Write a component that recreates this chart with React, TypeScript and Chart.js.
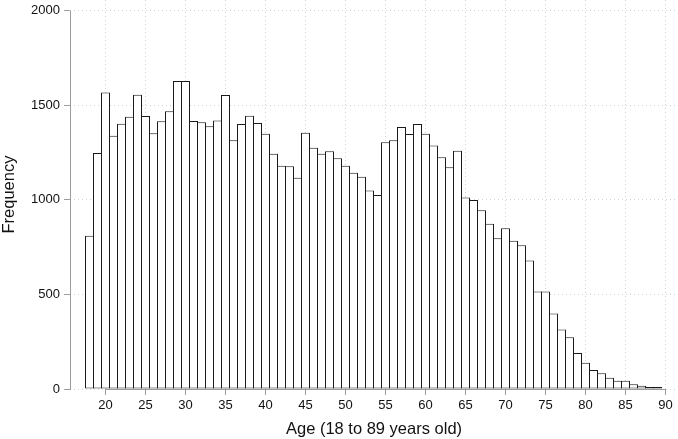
import React, { useEffect, useRef } from "react";
import { Chart, registerables } from "chart.js";

Chart.register(...registerables);

const ages = [
  18, 19, 20, 21, 22, 23, 24, 25, 26, 27, 28, 29, 30, 31, 32, 33, 34, 35,
  36, 37, 38, 39, 40, 41, 42, 43, 44, 45, 46, 47, 48, 49, 50, 51, 52, 53,
  54, 55, 56, 57, 58, 59, 60, 61, 62, 63, 64, 65, 66, 67, 68, 69, 70, 71,
  72, 73, 74, 75, 76, 77, 78, 79, 80, 81, 82, 83, 84, 85, 86, 87, 88, 89,
];

const frequencies = [
  810, 1248, 1568, 1339, 1402, 1439, 1556, 1443, 1352, 1415, 1468, 1628,
  1628, 1417, 1410, 1389, 1420, 1554, 1315, 1401, 1445, 1406, 1350, 1244,
  1180, 1177, 1117, 1355, 1276, 1244, 1257, 1220, 1180, 1143, 1122, 1050,
  1026, 1304, 1315, 1385, 1348, 1401, 1350, 1288, 1225, 1172, 1260, 1013,
  999, 945, 874, 797, 850, 784, 760, 679, 515, 515, 399, 315, 273, 190,
  139, 100, 83, 60, 44, 44, 25, 17, 11, 11,
];

const xTicks = [20, 25, 30, 35, 40, 45, 50, 55, 60, 65, 70, 75, 80, 85, 90];
const yTicks = [0, 500, 1000, 1500, 2000];

const xTitle = "Age (18 to 89 years old)";
const yTitle = "Frequency";

const FONT = "'Liberation Sans', Arial, Helvetica, sans-serif";
const AXIS_GRAY = "#9c9c9c";
const GRID_GRAY = "#d2d2d2";
const TEXT = "#111111";

export default function App() {
  const ref = useRef<HTMLCanvasElement>(null);

  useEffect(() => {
    if (!ref.current) return;

    const axisLines = {
      id: "axisLines",
      afterDatasetsDraw(chart: any) {
        const { ctx, scales } = chart;
        const x = scales.x;
        const y = scales.y;
        ctx.save();
        ctx.strokeStyle = AXIS_GRAY;
        ctx.lineWidth = 1;
        ctx.setLineDash([]);
        const ax = Math.round(x.left) + 0.5;
        ctx.beginPath();
        ctx.moveTo(ax, Math.round(y.getPixelForValue(yTicks[yTicks.length - 1])));
        ctx.lineTo(ax, Math.round(y.getPixelForValue(yTicks[0])) + 1);
        ctx.stroke();
        const ay = Math.round(y.getPixelForValue(0)) + 0.5;
        ctx.beginPath();
        ctx.moveTo(Math.floor(x.getPixelForValue(xTicks[0])), ay);
        ctx.lineTo(Math.ceil(x.getPixelForValue(xTicks[xTicks.length - 1])), ay);
        ctx.stroke();
        ctx.restore();
      },
    };

    const chart = new Chart(ref.current, {
      type: "bar",
      data: {
        datasets: [
          {
            data: ages.map((a, i) => ({ x: a, y: frequencies[i] })),
            backgroundColor: "#ffffff",
            borderColor: "#1a1a1a",
            borderWidth: 1,
            borderSkipped: false,
            barPercentage: 1,
            categoryPercentage: 1.125,
          } as any,
        ],
      },
      options: {
        animation: false,
        responsive: false,
        layout: { padding: 0 },
        plugins: {
          legend: { display: false },
          tooltip: { enabled: false },
        },
        scales: {
          x: {
            type: "linear",
            min: 15.5625,
            max: 91.5625,
            offset: false,
            afterBuildTicks: (s: any) => {
              s.ticks = xTicks.map((v) => ({ value: v }));
            },
            afterFit: (s: any) => {
              s.height = 50;
              s.paddingLeft = 0;
              s.paddingRight = 0;
            },
            grid: {
              offset: false,
              color: GRID_GRAY,
              lineWidth: 1,
              tickLength: 6,
              tickColor: AXIS_GRAY,
              tickWidth: 1,
              tickBorderDash: [],
            },
            border: { display: false, dash: [1, 3] },
            ticks: {
              font: { family: FONT, size: 13 },
              color: TEXT,
              padding: 3,
              maxRotation: 0,
              autoSkip: false,
              callback: (v: any) => String(v),
            },
            title: {
              display: true,
              text: xTitle,
              font: { family: FONT, size: 16.5 },
              color: TEXT,
              padding: { top: 0, bottom: 0 },
            },
          },
          y: {
            type: "linear",
            min: 0,
            max: 2056.6,
            afterBuildTicks: (s: any) => {
              s.ticks = yTicks.map((v) => ({ value: v }));
            },
            afterFit: (s: any) => {
              s.width = 70;
              s.paddingTop = 0;
              s.paddingBottom = 0;
            },
            grid: {
              color: GRID_GRAY,
              lineWidth: 1,
              tickLength: 6,
              tickColor: AXIS_GRAY,
              tickWidth: 1,
              tickBorderDash: [],
            },
            border: { display: false, dash: [1, 3] },
            ticks: {
              font: { family: FONT, size: 13 },
              color: TEXT,
              padding: 4,
              callback: (v: any) => String(v),
            },
            title: {
              display: true,
              text: yTitle,
              font: { family: FONT, size: 16.5 },
              color: TEXT,
              padding: { top: 0, bottom: 0 },
            },
          },
        },
      } as any,
      plugins: [axisLines],
    });

    return () => chart.destroy();
  }, []);

  return (
    <div style={{ position: "absolute", left: 0, top: 0, width: 678, height: 439 }}>
      <canvas ref={ref} width={678} height={439} style={{ display: "block" }} />
    </div>
  );
}
